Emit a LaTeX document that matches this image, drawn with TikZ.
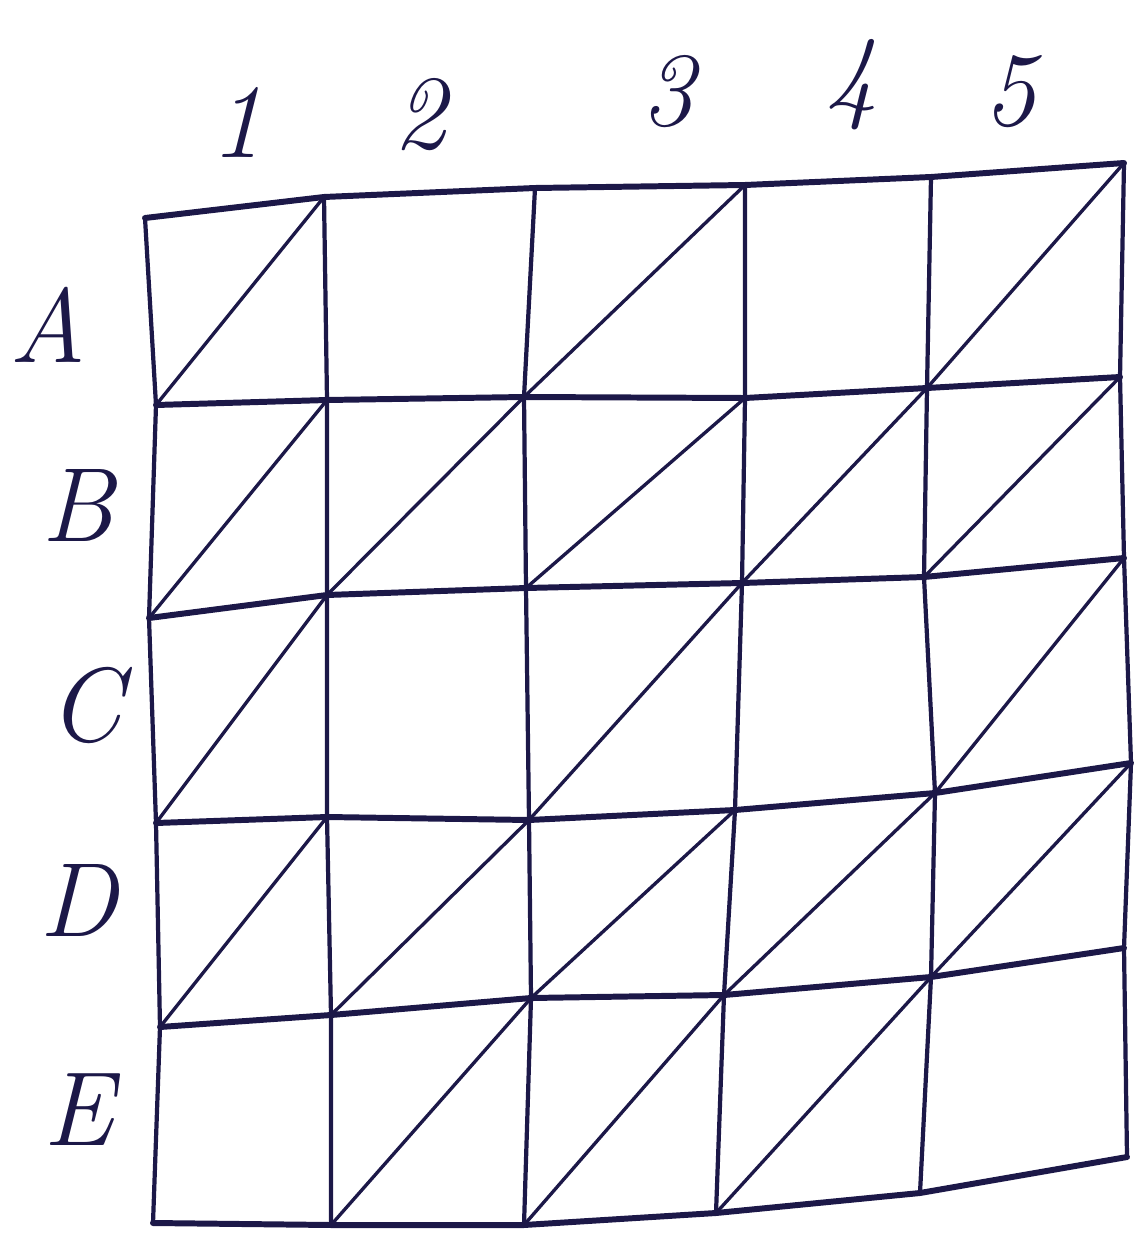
\documentclass[tikz,border=0pt]{standalone}
\usepackage{tikz}
\usepackage{xcolor}
\definecolor{inkblue}{HTML}{1C1848}
\tikzset{
  rowline/.style={draw=inkblue, line width=3.4pt, line cap=round, line join=round},
  colline/.style={draw=inkblue, line width=2.4pt, line cap=round, line join=round},
  diagline/.style={draw=inkblue, line width=1.9pt, line cap=round},
  lbl/.style={text=inkblue, font=\fontsize{60}{64}\selectfont\itshape, inner sep=0pt}
}
\begin{document}
\begin{tikzpicture}[x=0.02cm, y=-0.02cm]
  \useasboundingbox (0,0) rectangle (1140,1233);

  % grid crossings, row by row
  \foreach \x/\y [count=\c from 0] in {145/218,324/197,535/188,745/185,931/177,1124/163}
    \coordinate (p0\c) at (\x,\y);
  \foreach \x/\y [count=\c from 0] in {156/405,327/400,524/397,745/398,927/388,1120/377}
    \coordinate (p1\c) at (\x,\y);
  \foreach \x/\y [count=\c from 0] in {149/618,327/595,526/588,742/583,924/577,1124/558}
    \coordinate (p2\c) at (\x,\y);
  \foreach \x/\y [count=\c from 0] in {156/823,327/817,529/820,735/810,935/793,1131/763}
    \coordinate (p3\c) at (\x,\y);
  \foreach \x/\y [count=\c from 0] in {160/1027,331/1015,531/998,724/995,931/977,1124/948}
    \coordinate (p4\c) at (\x,\y);
  \foreach \x/\y [count=\c from 0] in {153/1223,331/1225,524/1225,716/1213,920/1193,1127/1157}
    \coordinate (p5\c) at (\x,\y);

  % horizontal and vertical lines
  \foreach \r in {0,...,5}
    \draw[rowline] (p\r0) -- (p\r1) -- (p\r2) -- (p\r3) -- (p\r4) -- (p\r5);
  \foreach \c in {0,...,5}
    \draw[colline] (p0\c) -- (p1\c) -- (p2\c) -- (p3\c) -- (p4\c) -- (p5\c);

  % diagonals: lower left corner / upper right corner
  \foreach \a/\b in {10/01,12/03,14/05,
                     20/11,21/12,22/13,23/14,24/15,
                     30/21,32/23,34/25,
                     40/31,41/32,42/33,43/34,44/35,
                     51/42,52/43,53/44}
    \draw[diagline] (p\a) -- (p\b);

  % column labels
  \node[lbl] (col1) at (237,122) {1};
  \node[lbl] (col2) at (420,115) {2};
  \node[lbl] (col3) at (668,92) {3};
  \node[lbl] (col4) at (852,85) {4};
  \node[lbl] (col5) at (1010,92) {5};

  % row labels
  \node[lbl] (rowA) at (48,325) {A};
  \node[lbl] (rowB) at (78,505) {B};
  \node[lbl] (rowC) at (85,705) {C};
  \node[lbl] (rowD) at (78,900) {D};
  \node[lbl] (rowE) at (78,1110) {E};
\end{tikzpicture}
\end{document}
